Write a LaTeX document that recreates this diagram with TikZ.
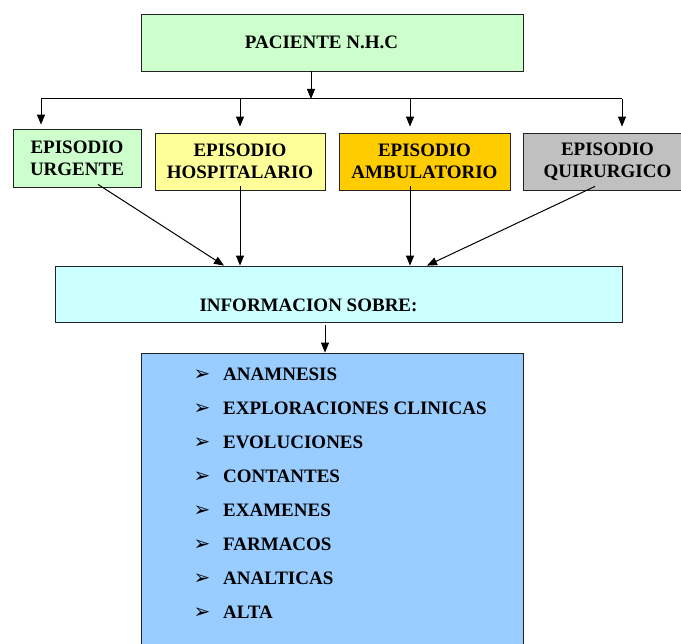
\documentclass[tikz,border=0pt]{standalone}
\usepackage{fontspec}
\setmainfont{Liberation Serif}
\newfontfamily\dingfont{DejaVu Sans}
\usetikzlibrary{arrows.meta}

\definecolor{boxgreen}{HTML}{CCFFCC}
\definecolor{boxyellow}{HTML}{FFFF99}
\definecolor{boxorange}{HTML}{FFCC00}
\definecolor{boxgray}{HTML}{C0C0C0}
\definecolor{boxcyan}{HTML}{CCFFFF}
\definecolor{boxblue}{HTML}{99CCFF}
\definecolor{edge}{HTML}{222222}

\begin{document}
\begin{tikzpicture}[x=1pt,y=-1pt,
  box/.style={draw=edge, line width=0.8pt, inner sep=0pt, align=center,
              font=\bfseries\fontsize{19}{22}\selectfont},
  label text/.style={inner sep=0pt, font=\bfseries\fontsize{19}{22}\selectfont},
  arr/.style={draw=black, line width=1pt, -{Triangle[length=10pt,width=8pt]}},
  bus/.style={draw=black, line width=1pt},
  itemtext/.style={inner sep=0pt, anchor=base west, font=\bfseries\fontsize{19}{22}\selectfont},
  bullet/.style={inner sep=0pt, anchor=base, font=\dingfont\fontsize{20}{22}\selectfont}
]
\useasboundingbox (0,0) rectangle (681,644);
\fill[white] (0,0) rectangle (681,644);

% patient record
\node[box, fill=boxgreen, minimum width=382pt, minimum height=57pt] (pac) at (332,42.5) {};
\node[label text] (pactext) at (321.5,42) {PACIENTE N.H.C};

% episode boxes
\node[box, fill=boxgreen, minimum width=128pt, minimum height=58pt] (urg) at (77,158) {EPISODIO\\URGENTE};
\node[box, fill=boxyellow, minimum width=170pt, minimum height=57pt] (hosp) at (240,161.5) {EPISODIO\\HOSPITALARIO};
\node[box, fill=boxorange, minimum width=171pt, minimum height=57pt] (amb) at (424.5,161.5) {EPISODIO\\AMBULATORIO};
\node[box, fill=boxgray, minimum width=169pt, minimum height=57pt] (quir) at (607.5,161.5) {EPISODIO\\QUIRURGICO};

% information box
\node[box, fill=boxcyan, minimum width=567pt, minimum height=56pt] (info) at (338.5,294) {};
\node[label text] (infotext) at (308.5,305) {INFORMACION SOBRE:};

% list box
\node[box, fill=boxblue, minimum width=382pt, minimum height=297pt] (list) at (332,501.5) {};

% distribution bus
\coordinate (hub) at (311,99);
\coordinate (busL) at (41,99);
\coordinate (busR) at (622,99);
\draw[arr] (pac.south -| hub) -- (hub);
\draw[bus] (busL) -- (busR);
\draw[arr, shorten >=4pt] (busL) -- (busL |- urg.north);
\draw[arr, shorten >=6pt] (busL -| hosp.north) -- (hosp.north);
\draw[arr, shorten >=6pt] (busL -| 410,0) -- (hosp.north -| 410,0);
\draw[arr, shorten >=6pt] (busR) -- (busR |- quir.north);

% episodes feed the information box
\draw[arr] ([xshift=21pt,yshift=3pt]urg.south) -- ([xshift=-114.5pt]info.north);
\draw[arr] ([yshift=4pt]hosp.south) -- (hosp.south |- info.north);
\draw[arr] ([xshift=-14.5pt,yshift=4pt]amb.south) -- ([xshift=71.5pt]info.north);
\draw[arr] ([xshift=-12.5pt,yshift=4pt]quir.south) -- ([xshift=88.5pt]info.north);

% information to list
\draw[arr] ([xshift=-13.5pt,yshift=-3pt]info.south) -- ([xshift=-7pt]list.north);

% list items
\foreach \t [count=\i from 0] in {ANAMNESIS, EXPLORACIONES CLINICAS, EVOLUCIONES, CONTANTES, EXAMENES, FARMACOS, ANALTICAS, ALTA}{
  \node[bullet] (b\i) at (202,{381+33.9*\i}) {➢};
  \node[itemtext] (item\i) at (223,{381+33.9*\i}) {\t};
}
\end{tikzpicture}
\end{document}
